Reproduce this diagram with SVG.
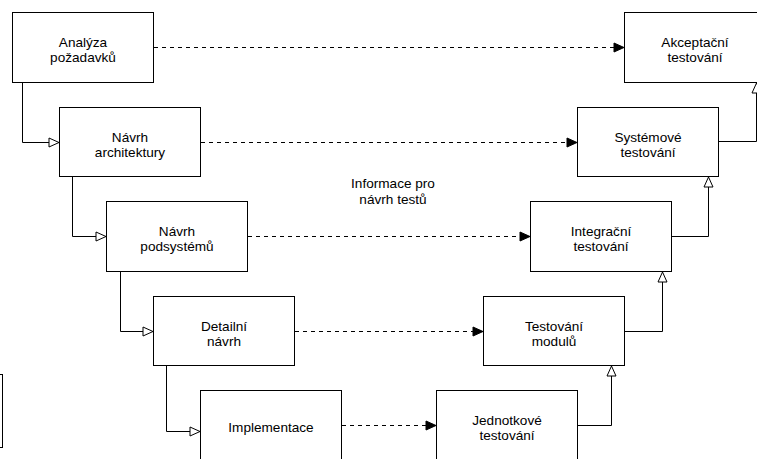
<svg xmlns="http://www.w3.org/2000/svg" width="757" height="459" viewBox="0 0 757 459">
  <style>
    .box { fill: #ffffff; stroke: #000000; stroke-width: 1; }
    .lbl { font-family: "Liberation Sans", Arial, sans-serif; font-size: 13.6px; fill: #000000; text-anchor: middle; }
    .flow { fill: none; stroke: #000000; stroke-width: 1; }
    .info { fill: none; stroke: #000000; stroke-width: 1; stroke-dasharray: 4 4; }
  </style>
  <defs>
    <marker id="openBlock" markerUnits="userSpaceOnUse" markerWidth="12" markerHeight="12" refX="10" refY="4.5" orient="auto" overflow="visible">
      <path d="M0,0 L10,4.5 L0,9 Z" fill="#ffffff" stroke="#000000" stroke-width="1"/>
    </marker>
    <marker id="solidArrow" markerUnits="userSpaceOnUse" markerWidth="12" markerHeight="12" refX="10" refY="4.5" orient="auto" overflow="visible">
      <path d="M0,0 L10,4.5 L0,9 Z" fill="#000000" stroke="#000000" stroke-width="1"/>
    </marker>
  </defs>

  <rect width="757" height="459" fill="#ffffff"/>

  <!-- connectors -->
  <g id="connectors">
    <!-- left branch: design steps going down -->
    <path class="flow" d="M22.5,83 V142.5 H59" marker-end="url(#openBlock)"/>
    <path class="flow" d="M72.5,177 V236.5 H106" marker-end="url(#openBlock)"/>
    <path class="flow" d="M120.5,272 V331.5 H153" marker-end="url(#openBlock)"/>
    <path class="flow" d="M166.5,366 V431.5 H200" marker-end="url(#openBlock)"/>
    <!-- right branch: testing steps going up -->
    <path class="flow" d="M578,425.5 H611.5 V366" marker-end="url(#openBlock)"/>
    <path class="flow" d="M625,331.5 H662.5 V272" marker-end="url(#openBlock)"/>
    <path class="flow" d="M672,236.5 H708.5 V177" marker-end="url(#openBlock)"/>
    <path class="flow" d="M719,141.5 H756.5 V83" marker-end="url(#openBlock)"/>
    <!-- test design information -->
    <path class="info" d="M154,47.5 H624" marker-end="url(#solidArrow)"/>
    <path class="info" d="M201,142.5 H577" marker-end="url(#solidArrow)"/>
    <path class="info" d="M248,236.5 H530" marker-end="url(#solidArrow)"/>
    <path class="info" d="M295,331.5 H483" marker-end="url(#solidArrow)"/>
    <path class="info" d="M342,425.5 H436" marker-end="url(#solidArrow)"/>
  </g>

  <g id="info-label">
    <text class="lbl" x="393" y="188">Informace pro</text>
    <text class="lbl" x="393" y="204">návrh testů</text>
  </g>

  <!-- left side box -->
  <g id="side-box">
    <rect class="box" x="-140.5" y="374.5" width="143" height="73"/>
  </g>

  <!-- design nodes -->
  <g id="analyza">
    <rect class="box" x="12.5" y="12.5" width="141" height="70"/>
    <text class="lbl" x="83" y="46.5">Analýza</text>
    <text class="lbl" x="83" y="62">požadavků</text>
  </g>
  <g id="navrh-architektury">
    <rect class="box" x="59.5" y="107.5" width="141" height="69"/>
    <text class="lbl" x="130" y="141.5">Návrh</text>
    <text class="lbl" x="130" y="157">architektury</text>
  </g>
  <g id="navrh-podsystemu">
    <rect class="box" x="106.5" y="201.5" width="141" height="70"/>
    <text class="lbl" x="177" y="235.5">Návrh</text>
    <text class="lbl" x="177" y="251">podsystémů</text>
  </g>
  <g id="detailni-navrh">
    <rect class="box" x="153.5" y="296.5" width="141" height="69"/>
    <text class="lbl" x="224" y="330.5">Detailní</text>
    <text class="lbl" x="224" y="346">návrh</text>
  </g>
  <g id="implementace">
    <rect class="box" x="200.5" y="390.5" width="141" height="80"/>
    <text class="lbl" x="271" y="431.5">Implementace</text>
  </g>

  <!-- testing nodes -->
  <g id="akceptacni-testovani">
    <rect class="box" x="624.5" y="12.5" width="141" height="70"/>
    <text class="lbl" x="695" y="46.5">Akceptační</text>
    <text class="lbl" x="695" y="62">testování</text>
  </g>
  <g id="systemove-testovani">
    <rect class="box" x="577.5" y="107.5" width="141" height="69"/>
    <text class="lbl" x="648" y="141.5">Systémové</text>
    <text class="lbl" x="648" y="157">testování</text>
  </g>
  <g id="integracni-testovani">
    <rect class="box" x="530.5" y="201.5" width="141" height="70"/>
    <text class="lbl" x="601" y="235.5">Integrační</text>
    <text class="lbl" x="601" y="251">testování</text>
  </g>
  <g id="testovani-modulu">
    <rect class="box" x="483.5" y="296.5" width="141" height="69"/>
    <text class="lbl" x="554" y="330.5">Testování</text>
    <text class="lbl" x="554" y="346">modulů</text>
  </g>
  <g id="jednotkove-testovani">
    <rect class="box" x="436.5" y="390.5" width="141" height="80"/>
    <text class="lbl" x="507" y="424.5">Jednotkové</text>
    <text class="lbl" x="507" y="440">testování</text>
  </g>
</svg>
